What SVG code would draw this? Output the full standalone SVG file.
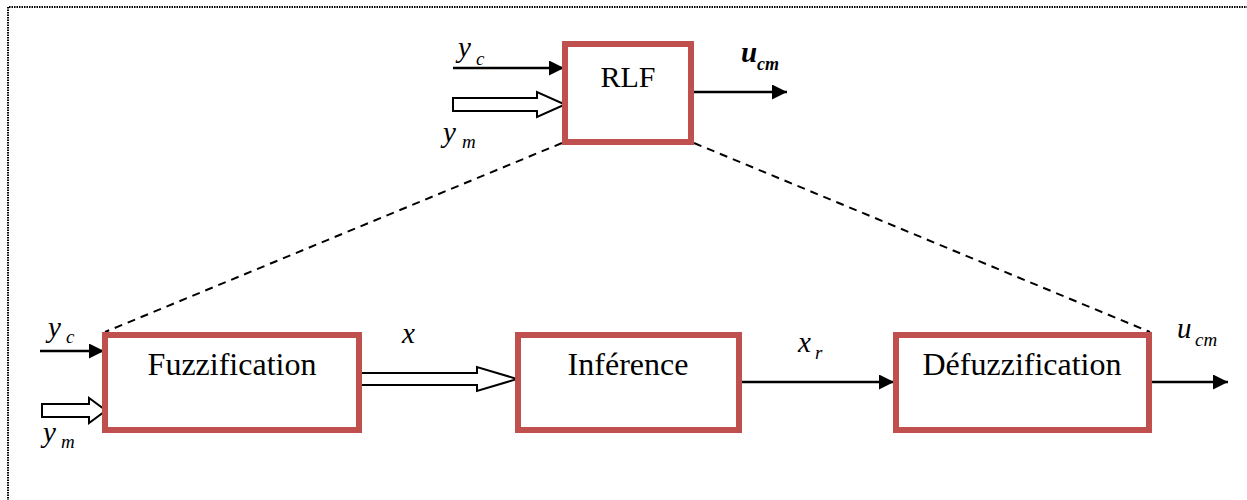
<svg xmlns="http://www.w3.org/2000/svg" width="1247" height="500" viewBox="0 0 1247 500">
<defs>
<style>
.box{fill:#fff;stroke:#C0504D;stroke-width:6}
.lbl{font-size:32px;fill:#000}
.v{font-style:italic;font-size:29px;fill:#000}
.s{font-style:italic;font-size:19px;fill:#000}
.line{stroke:#000;stroke-width:2.5;fill:none}
.hollow{fill:#fff;stroke:#000;stroke-width:2}
.dash{stroke:#000;stroke-width:2;stroke-dasharray:8 6;fill:none}
.frame{fill:none;stroke:#000;stroke-width:2;stroke-dasharray:1.5 1}
</style>
<marker id="ah" markerWidth="15" markerHeight="15" refX="15" refY="7.5" orient="auto" markerUnits="userSpaceOnUse">
<path d="M0,0 L15,7.5 L0,15 Z" fill="#000"/>
</marker>
</defs>
<rect width="1247" height="500" fill="#fff"/>
<path class="frame" d="M8,501 L8,7 L1248,7"/>

<g id="connectors">
<line class="dash" x1="562" y1="143" x2="105" y2="332"/>
<line class="dash" x1="694" y1="143" x2="1150" y2="332"/>
<line class="line" x1="453" y1="68" x2="564" y2="68" marker-end="url(#ah)"/>
<path class="hollow" d="M453,98 L537,98 L537,92 L565,104.5 L537,117 L537,111 L453,111 Z"/>
<line class="line" x1="694" y1="92" x2="787" y2="92" marker-end="url(#ah)"/>
<line class="line" x1="40" y1="351" x2="104" y2="351" marker-end="url(#ah)"/>
<path class="hollow" d="M42,404 L89,404 L89,398 L106,410.5 L89,423 L89,417 L42,417 Z"/>
<path class="hollow" d="M358,373 L477,373 L477,367 L517,379 L477,391 L477,385 L358,385 Z"/>
<line class="line" x1="742" y1="382" x2="894" y2="382" marker-end="url(#ah)"/>
<line class="line" x1="1152" y1="382" x2="1228" y2="382" marker-end="url(#ah)"/>
</g>

<g font-family="'Liberation Serif', serif">
<g id="rlf">
<rect class="box" x="565" y="44" width="126" height="98"/>
<text class="lbl" x="628" y="87" text-anchor="middle" font-size="30" style="font-size:30px">RLF</text>
</g>
<g id="fuzzification">
<rect class="box" x="105" y="335" width="254" height="95"/>
<text class="lbl" x="232" y="375" text-anchor="middle">Fuzzification</text>
</g>
<g id="inference">
<rect class="box" x="518" y="335" width="221" height="95"/>
<text class="lbl" x="628" y="375" text-anchor="middle">Inférence</text>
</g>
<g id="defuzzification">
<rect class="box" x="896" y="335" width="253" height="95"/>
<text class="lbl" x="1022" y="375" text-anchor="middle">Défuzzification</text>
</g>

<g id="labels">
<text class="v" x="458" y="57">y</text><text class="s" x="476" y="65">c</text>
<text class="v" x="443" y="142">y</text><text class="s" x="462" y="148">m</text>
<text x="741" y="62" font-style="italic" font-weight="bold" font-size="29">u</text>
<text x="757" y="70" font-style="italic" font-weight="bold" font-size="18">cm</text>
<text class="v" x="48" y="337">y</text><text class="s" x="66" y="343">c</text>
<text class="v" x="43" y="442">y</text><text class="s" x="61" y="448">m</text>
<text class="v" x="402" y="343">x</text>
<text class="v" x="798" y="352">x</text><text class="s" x="815" y="359">r</text>
<text class="v" x="1177" y="338">u</text><text class="s" x="1195" y="346">cm</text>
</g>
</g>
</svg>
